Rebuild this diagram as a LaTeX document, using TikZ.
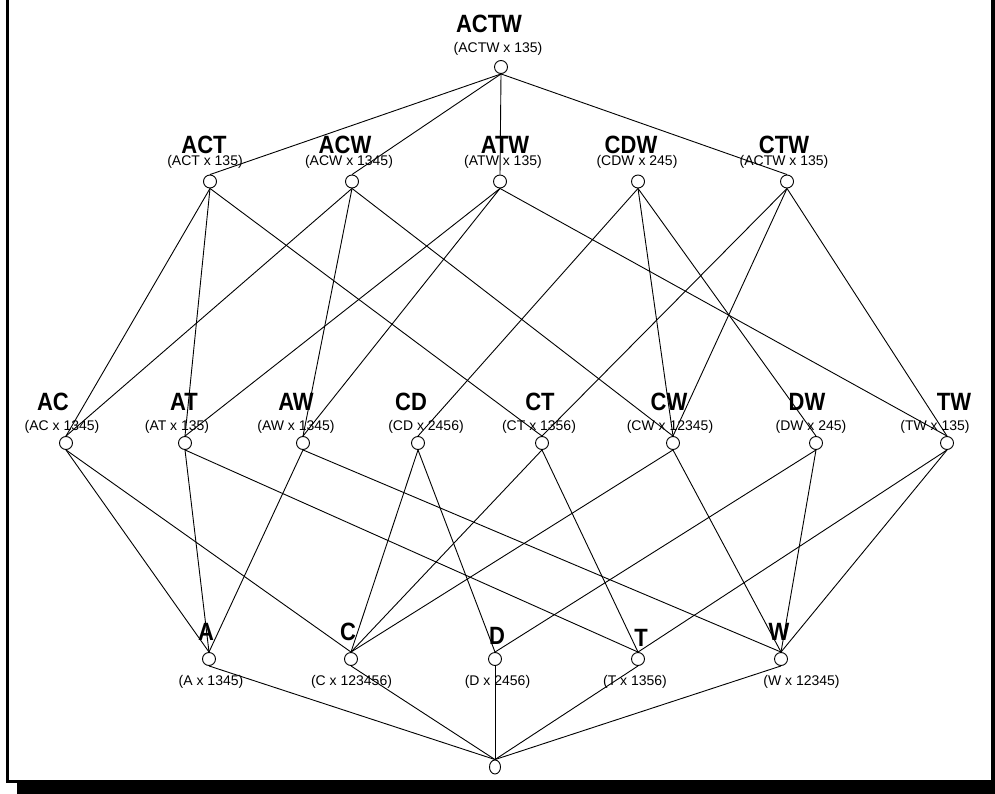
\documentclass[tikz,border=0pt]{standalone}
\usepackage{fontspec}
\setmainfont{Liberation Sans}
\newfontfamily\narrowbold[FakeStretch=0.88]{Liberation Sans}
\usetikzlibrary{shapes.geometric}
\begin{document}
\begin{tikzpicture}[x=1pt,y=-1pt,
 v/.style={circle,draw,minimum size=13pt,inner sep=0pt,line width=0.9pt,fill=white},
 bl/.style={font=\narrowbold\fontsize{25}{25}\selectfont\bfseries,inner sep=0pt},
 sl/.style={font=\fontsize{14}{14}\selectfont,inner sep=0pt},
 ed/.style={line width=0.9pt}]
\useasboundingbox (0,0) rectangle (995,794);
% frame
\fill[black] (6,0) rectangle (9,783);
\fill[black] (6,780) rectangle (995,783);
\fill[black] (17,783) rectangle (995,794);
\fill[black] (991,0) rectangle (995,794);
% top
\node[v] (ACTW) at (501,67) {};
\node[bl] (lACTW) at (489,24) {ACTW};
\node[sl] (sACTW) at (498,49) {(ACTW x 135)};
% level 2
\foreach \n/\c/\b/\s/\t in {ACT/210/204/205/ACT x 135, ACW/352/345/349/ACW x 1345, ATW/500/505/503/ATW x 135, CDW/638/631/637/CDW x 245, CTW/787/784/784/ACTW x 135}{
  \node[v] (\n) at (\c,181.5) {};
  \node[bl] (l\n) at (\b,144.5) {\n};
  \node[sl] (s\n) at (\s,162) {(\t)};
}
% level 3
\foreach \n/\c/\b/\s/\t in {AC/66/53/62/AC x 1345, AT/185/184/177/AT x 135, AW/303/296/296/AW x 1345, CD/418/411/426/CD x 2456, CT/542/540/539/CT x 1356, CW/673/669/670/CW x 12345, DW/816/807/811/DW x 245, TW/947/954/935/TW x 135}{
  \node[v] (\n) at (\c,443) {};
  \node[bl] (l\n) at (\b,401.5) {\n};
  \node[sl] (s\n) at (\s,426.5) {(\t)};
}
% level 4
\foreach \n/\c/\bx/\by/\s/\t in {A/209/206/632/211/A x 1345, C/351/348/632/351.5/C x 123456, D/495/497/636/497.5/D x 2456, T/638/641/638/635/T x 1356, W/781/779/632/801.5/W x 12345}{
  \node[v] (\n) at (\c,659) {};
  \node[bl] (l\n) at (\bx,\by) {\n};
  \node[sl] (s\n) at (\s,682) {(\t)};
}
% bottom
\node[draw,ellipse,minimum width=11pt,minimum height=14pt,inner sep=0pt,line width=0.9pt,fill=white] (bot) at (495,767) {};
% edges
\foreach \u/\l in {ACTW/ACT, ACTW/ACW, ACTW/ATW, ACTW/CTW,
  ACT/AC, ACT/AT, ACT/CT, ACW/AC, ACW/AW, ACW/CW, ATW/AT, ATW/AW, ATW/TW,
  CDW/CD, CDW/CW, CDW/DW, CTW/CT, CTW/CW, CTW/TW,
  AC/A, AC/C, AT/A, AT/T, AW/A, AW/W, CD/C, CD/D, CT/C, CT/T, CW/C, CW/W, DW/D, DW/W, TW/T, TW/W,
  A/bot, C/bot, D/bot, T/bot, W/bot}{
  \draw[ed] (\u.south) -- (\l.north);
}
\end{tikzpicture}
\end{document}
